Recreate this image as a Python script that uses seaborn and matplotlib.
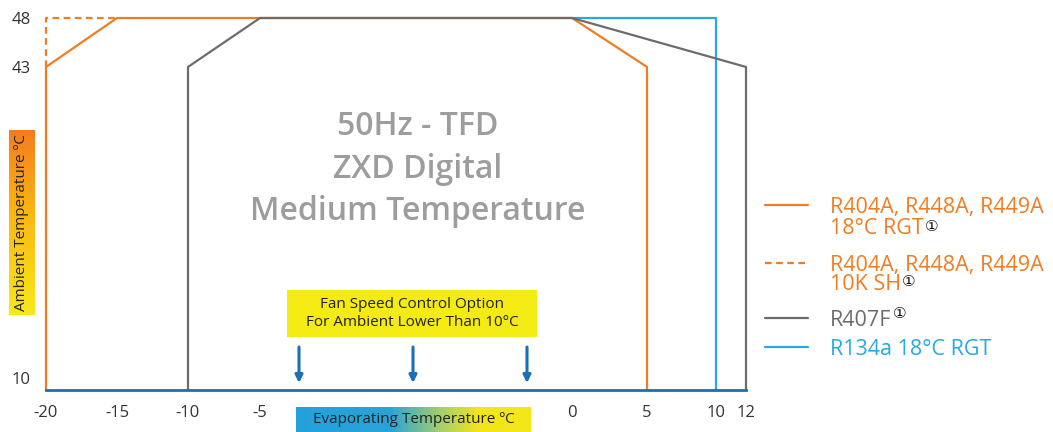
import numpy as np
import pandas as pd
import matplotlib
matplotlib.use("Agg")
import matplotlib.pyplot as plt
import matplotlib.transforms as mtransforms
import seaborn as sns
from matplotlib.colors import LinearSegmentedColormap
from matplotlib.lines import Line2D
from matplotlib.patches import Rectangle

# ---------------- data ----------------
x_ticks = [-20, -15, -10, -5, 0, 5, 10, 12]
y_ticks = [10, 43, 48]

r404_rgt_x = [-20, -20, -15, 0, 5, 5]
r404_rgt_y = [10, 43, 48, 48, 43, 10]
r404_sh_x = [-20, -20, -15]
r404_sh_y = [43, 48, 48]
r407f_x = [-10, -10, -5, 0, 12, 12]
r407f_y = [10, 43, 48, 48, 43, 10]
r134a_x = [0, 10, 10]
r134a_y = [48, 48, 10]

title_lines = ["50Hz - TFD", "ZXD Digital", "Medium Temperature"]
fan_text = "Fan Speed Control Option\nFor Ambient Lower Than 10°C"
xlabel = "Evaporating Temperature ºC"
ylabel = "Ambient Temperature ºC"
legend_labels = [
    ("R404A, R448A, R449A\n18°C RGT", True),
    ("R404A, R448A, R449A\n10K SH", True),
    ("R407F", True),
    ("R134a 18°C RGT", False),
]

# ---------------- style ----------------
ORANGE = "#f07d22"
GRAY = "#6b6c6e"
LBLUE = "#27aae1"
DBLUE = "#1b6fb6"
TXT = "#333333"
W, H = 1053, 432

sns.set_theme(style="white")
plt.rcParams["font.family"] = ["Open Sans", "DejaVu Sans", "Noto Sans CJK JP"]

fig = plt.figure(figsize=(W / 100, H / 100), dpi=100)

def fx(px):
    return px / W

def fy(py):
    return 1 - py / H

# axes spanning the plot region
ax = fig.add_axes([fx(46), fy(390), (746 - 46) / W, (390 - 18) / H])

# piecewise (broken) evaporating-temperature scale
scale_knots = np.array(x_ticks, dtype=float)
scale_pos = np.array([46, 117, 188, 260, 572, 647, 716, 746], dtype=float)

def fwd(v):
    return np.interp(v, scale_knots, scale_pos)

def inv(v):
    return np.interp(v, scale_pos, scale_knots)

ax.set_xscale("function", functions=(fwd, inv))
ax.set_xlim(-20, 12)
ax.set_ylim(10, 48)

series = [
    (r134a_x, r134a_y, LBLUE, "-"),
    (r404_sh_x, r404_sh_y, ORANGE, "--"),
    (r404_rgt_x, r404_rgt_y, ORANGE, "-"),
    (r407f_x, r407f_y, GRAY, "-"),
]
for xs, ys, col, ls in series:
    df = pd.DataFrame({"x": xs, "y": ys})
    sns.lineplot(data=df, x="x", y="y", sort=False, estimator=None,
                 color=col, linewidth=1.6, ax=ax)
    l = ax.lines[-1]
    l.set_clip_on(False)
    if ls == "--":
        l.set_dashes([3, 2])

ax.set_xticks(x_ticks)
ax.set_xticklabels([str(v) for v in x_ticks])
ax.set_yticks(y_ticks)
ax.set_yticklabels([str(v) for v in y_ticks])
ax.tick_params(axis="both", length=0, labelsize=12, labelcolor=TXT)
ax.tick_params(axis="x", pad=11)
ax.tick_params(axis="y", pad=11)
ax.set_xlabel("")
ax.set_ylabel("")
for s in ["top", "right", "left"]:
    ax.spines[s].set_visible(False)
ax.spines["bottom"].set_color(DBLUE)
ax.spines["bottom"].set_linewidth(2.0)
ax.spines["bottom"].set_zorder(5)
ax.grid(False)
ax.set_facecolor("none")

# the lowest y label sits slightly above the axis line
lab10 = ax.get_yticklabels()[0]
lab10.set_transform(lab10.get_transform() +
                    mtransforms.ScaledTranslation(0, 9 / 72, fig.dpi_scale_trans))

# center title
for txt, base in zip(title_lines, [135, 178, 220]):
    fig.text(fx(418), fy(base), txt, ha="center", va="baseline",
             fontsize=23, color="#9d9d9d", fontweight="semibold")

# fan speed box
fig.patches.append(Rectangle((fx(287), fy(337)), (537 - 287) / W, (337 - 290) / H,
                             transform=fig.transFigure, facecolor="#f4ea14",
                             edgecolor="none", zorder=1))
fig.text(fx(412), fy(313.5), fan_text, ha="center", va="center",
         fontsize=11, color="#222222", linespacing=1.3, zorder=3)

# arrows
for px in [299, 413, 527]:
    ax.annotate("", xy=((px - 46) / 700, (390 - 383) / 372),
                xytext=((px - 46) / 700, (390 - 347) / 372),
                xycoords="axes fraction", textcoords="axes fraction",
                arrowprops=dict(arrowstyle="-|>", color=DBLUE, lw=2.2,
                                mutation_scale=11, shrinkA=0, shrinkB=0))

# gradient label boxes
cm_x = LinearSegmentedColormap.from_list(
    "xl", [(0, "#22a2dd"), (0.40, "#2aa3d8"), (0.62, "#a8cf6a"), (0.78, "#f2e61a"), (1, "#f4e81a")])
axx = fig.add_axes([fx(296), fy(432), (531 - 296) / W, (432 - 407) / H])
axx.imshow(np.linspace(0, 1, 256)[None, :], cmap=cm_x, aspect="auto", extent=[0, 1, 0, 1])
axx.set_axis_off()
axx.text(0.5, 0.5, xlabel, ha="center", va="center", fontsize=11,
         color="#222222", transform=axx.transAxes)

cm_y = LinearSegmentedColormap.from_list(
    "yl", [(0, "#f47b20"), (0.45, "#fbb613"), (1, "#f6ea1a")])
axy = fig.add_axes([fx(9), fy(315), (35 - 9) / W, (315 - 130) / H])
axy.imshow(np.linspace(0, 1, 256)[:, None], cmap=cm_y, aspect="auto", extent=[0, 1, 0, 1])
axy.set_axis_off()
axy.text(0.5, 0.5, ylabel, ha="center", va="center", fontsize=11,
         color="#222222", rotation=90, transform=axy.transAxes)

# manual legend
leg_rows = [
    (205, [213, 234], ORANGE, "-", 7),
    (263, [271, 290], ORANGE, "--", 8),
    (318, [326], GRAY, "-", 12),
    (347, [355], LBLUE, "-", 0),
]
fig.canvas.draw()
renderer = fig.canvas.get_renderer()
for (ly, bases, col, ls, raise_px), (label, note) in zip(leg_rows, legend_labels):
    ln = Line2D([fx(765), fx(808)], [fy(ly), fy(ly)], transform=fig.transFigure,
                color=col, lw=1.6, linestyle=ls)
    if ls == "--":
        ln.set_dashes([3, 2])
    fig.lines.append(ln)
    parts = label.split("\n")
    last = None
    for part, b in zip(parts, bases):
        last = fig.text(fx(830), fy(b), part, ha="left", va="baseline",
                        fontsize=15.5, color=col)
    if note:
        bb = last.get_window_extent(renderer=renderer)
        fig.text(bb.x1 / W + 1 / W, fy(bases[-1] - raise_px), "\u2460", ha="left",
                 va="center", fontsize=11, color="#111111",
                 family=["DejaVu Sans", "Noto Sans CJK JP"])

fig.savefig("out.png", dpi=100)
